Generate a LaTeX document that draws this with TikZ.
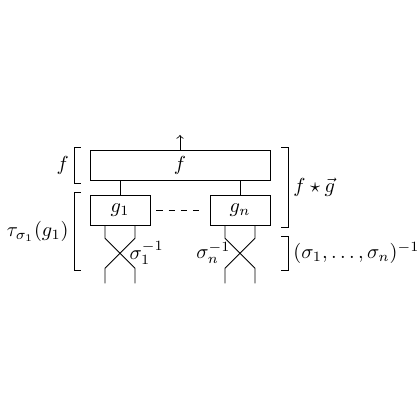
\documentclass[tikz,border=0pt]{standalone}
\usetikzlibrary{positioning}
\begin{document}
\begin{tikzpicture}[x=0.52cm, y=0.52cm, >=to,
    box/.style={draw, inner sep=0pt, minimum width=1.04cm, minimum height=0.52cm},
    brlabel/.style={inner sep=2.5pt}]
    \useasboundingbox (-7, -7) rectangle (7, 7);

    \node[box, minimum width=3.12cm] (f) at (-1, 1.5) {$f$};
    \node[box] (g1) at (-3, 0) {$g_1$};
    \node[box] (gn) at (1, 0) {$g_n$};
    \coordinate (out) at (-1, 2.5);

    \draw[->] (f.north) -- (out);
    \draw (f.south -| g1) -- (g1);
    \draw (f.south -| gn) -- (gn);
    \draw[dashed] ([xshift=3pt]g1.east) -- ([xshift=-3pt]gn.west);

    \foreach \g in {g1, gn} {
      \draw ([xshift=-0.26cm]\g.south) -- ++(0, -0.43) -- ++(1, -1) -- ++(0, -0.5);
      \draw ([xshift=0.26cm]\g.south) -- ++(0, -0.43) -- ++(-1, -1) -- ++(0, -0.5);
    }
    \node[right] (s1) at (-2.92, -1.43) {$\sigma_1^{-1}$};
    \node[left] (sn) at (0.92, -1.43) {$\sigma_n^{-1}$};

    % brackets
    \draw (-4.3, 2.1) -| (-4.53, 0.9) -- (-4.3, 0.9);
    \draw (-4.3, 0.6) -| (-4.53, -2) -- (-4.3, -2);
    \draw (2.37, 2.1) -| (2.6, -0.57) -- (2.37, -0.57);
    \draw (2.37, -0.87) -| (2.6, -2) -- (2.37, -2);
    \node[brlabel, left] (lf) at (-4.53, 1.5) {$f$};
    \node[brlabel, left] (ltau) at (-4.53, -0.7) {$\tau_{\sigma_1}(g_1)$};
    \node[brlabel, right] (lfg) at (2.6, 0.77) {$f \star \vec{g}$};
    \node[brlabel, right] (lsig) at (2.6, -1.43) {$(\sigma_1, \ldots, \sigma_n)^{-1}$};
  \end{tikzpicture}
\end{document}
